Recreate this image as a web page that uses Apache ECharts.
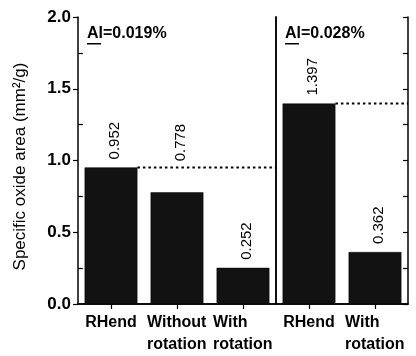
<!DOCTYPE html>
<html><head><meta charset="utf-8">
<script src="https://cdn.jsdelivr.net/npm/echarts@6/dist/echarts.min.js"></script>
<style>html,body{margin:0;padding:0;background:#fff}#c{width:416px;height:356px}</style>
</head><body><div id="c"></div>
<script>
// Data
const leftCategories = ['RHend', 'Without\nrotation', 'With\nrotation'];
const leftValues = [0.952, 0.778, 0.252];
const rightCategories = ['RHend', 'With\nrotation'];
const rightValues = [1.397, 0.362];
const leftNote = '0.019%';
const rightNote = '0.028%';
const yTicks = [0.0, 0.5, 1.0, 1.5, 2.0];
const yName = 'Specific oxide area (mm²/g)';

const FONT = '"Liberation Sans", Arial, Helvetica, sans-serif';
const chart = echarts.init(document.getElementById('c'), null, {renderer: 'canvas'});

const G = {top: 17, height: 292};
const BAR_FRAC = 0.8;
const catLabel = {
  show: true, interval: 0, margin: 8, color: '#000', fontFamily: FONT, fontWeight: 'bold', fontSize: 16, lineHeight: 22,
  formatter: v => v.indexOf('\n') >= 0 ? v.split('\n').map(s => '{l|' + s + '}').join('\n') : v,
  rich: {l: {width: 60, align: 'left', fontFamily: FONT, fontWeight: 'bold', fontSize: 16, lineHeight: 22, color: '#000'}}
};
const line = {show: true, lineStyle: {color: '#000', width: 1.5}};

function barSeries(xi, yi, vals) {
  return {
    type: 'bar', xAxisIndex: xi, yAxisIndex: yi, z: 5, barWidth: (BAR_FRAC * 100) + '%',
    itemStyle: {color: '#121212', borderColor: '#000', borderWidth: 0.5},
    label: {show: true, position: 'top', rotate: 90, align: 'left', verticalAlign: 'middle', distance: 8,
      offset: [0, 4],
      color: '#000', fontFamily: FONT, fontSize: 15, formatter: p => p.value.toFixed(3)},
    data: vals.map((v, i) => (xi === 0 && i === 1)
      ? {value: v, label: {distance: 31}} : v)
  };
}
function refLine(xi, yi, n, v) {
  // from the right edge of the first bar to the panel's right edge
  return {
    type: 'line', xAxisIndex: xi, yAxisIndex: yi, z: 1, symbol: 'none', silent: true,
    lineStyle: {color: '#000', width: 2, type: [2.5, 3]},
    data: [[0.5 + BAR_FRAC / 2, v], [n, v]]
  };
}
const yBase = {type: 'value', min: 0, max: 2, interval: 0.5, splitLine: {show: false}};

chart.setOption({
  animation: false,
  backgroundColor: '#fff',
  grid: [
    {left: 78, top: G.top, width: 198, height: G.height},
    {left: 276, top: G.top, width: 132, height: G.height}
  ],
  xAxis: [
    {type: 'category', gridIndex: 0, data: leftCategories, position: 'bottom', axisLine: line, axisTick: {show: false}, axisLabel: catLabel},
    {type: 'category', gridIndex: 0, data: leftCategories, position: 'top', axisLine: line, axisTick: {show: true, inside: true, alignWithLabel: true, length: 5, lineStyle: {color: '#000', width: 1.2}}, axisLabel: {show: false}},
    {type: 'value', gridIndex: 0, min: 0, max: leftCategories.length, show: false},
    {type: 'category', gridIndex: 1, data: rightCategories, position: 'bottom', axisLine: line, axisTick: {show: false}, axisLabel: catLabel},
    {type: 'category', gridIndex: 1, data: rightCategories, position: 'top', axisLine: line, axisTick: {show: true, inside: true, alignWithLabel: true, length: 5, lineStyle: {color: '#000', width: 1.2}}, axisLabel: {show: false}},
    {type: 'value', gridIndex: 1, min: 0, max: rightCategories.length, show: false}
  ],
  yAxis: [
    Object.assign({}, yBase, {gridIndex: 0, position: 'left', axisLine: line,
      axisTick: {show: true, inside: false, length: 5, lineStyle: {color: '#000', width: 1.2}},
      axisLabel: {show: true, margin: 7, color: '#000', fontFamily: FONT, fontWeight: 'bold', fontSize: 17, formatter: v => v.toFixed(1)},
      name: yName, nameLocation: 'middle', nameGap: 49,
      nameTextStyle: {color: '#000', fontFamily: FONT, fontSize: 17, padding: [0, 12, 0, 0]}}),
    Object.assign({}, yBase, {gridIndex: 0, position: 'left', axisLine: {show: false},
      axisTick: {show: false, inside: true}, minorTick: {show: true, splitNumber: 2, length: 5, lineStyle: {color: '#000', width: 1.2}},
      axisLabel: {show: false}}),
    Object.assign({}, yBase, {gridIndex: 0, position: 'right', axisLine: line, axisTick: {show: false}, axisLabel: {show: false}}),
    Object.assign({}, yBase, {gridIndex: 1, position: 'left', axisLine: line, axisTick: {show: false}, axisLabel: {show: false}}),
    Object.assign({}, yBase, {gridIndex: 1, position: 'right', interval: 0.25, axisLine: line,
      axisTick: {show: true, inside: true, length: 5, lineStyle: {color: '#000', width: 1.2}}, axisLabel: {show: false}})
  ],
  graphic: [
    {type: 'text', left: 87, top: 26, style: {text: 'Al=' + leftNote, font: 'bold 16px ' + FONT, fill: '#000'}},
    {type: 'rect', left: 87, top: 43, shape: {width: 14, height: 1.5}, style: {fill: '#000'}},
    {type: 'text', left: 285, top: 26, style: {text: 'Al=' + rightNote, font: 'bold 16px ' + FONT, fill: '#000'}},
    {type: 'rect', left: 285, top: 43, shape: {width: 14, height: 1.5}, style: {fill: '#000'}}
  ],
  series: [
    barSeries(0, 0, leftValues),
    refLine(2, 0, leftCategories.length, leftValues[0]),
    barSeries(3, 3, rightValues),
    refLine(5, 3, rightCategories.length, rightValues[0])
  ]
});
</script></body></html>
